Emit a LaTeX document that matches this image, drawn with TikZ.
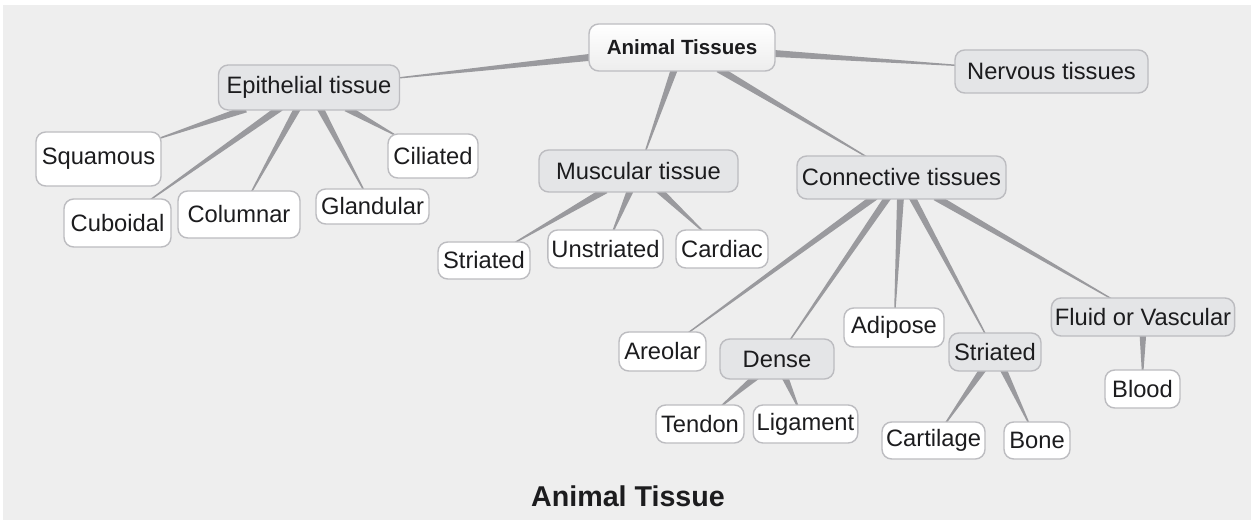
\documentclass[tikz,border=0pt]{standalone}
\usepackage{fontspec}
\setmainfont{Liberation Sans}
\usetikzlibrary{calc,backgrounds}
\definecolor{mapbg}{RGB}{238,238,238}
\definecolor{mapedge}{RGB}{188,188,192}
\definecolor{mapgroup}{RGB}{228,229,231}
\definecolor{maplink}{RGB}{154,154,158}
\definecolor{mapink}{RGB}{28,28,30}

% tapered link: wide at the parent, thin at the child
\newcommand{\twig}[2]{%
  \path (#1) -- (#2) coordinate[pos=0] (tA) coordinate[pos=1] (tB);
  \coordinate (tP) at ($(tA)!-3pt!(tB)$);
  \coordinate (tQ) at ($(tB)!-3pt!(tA)$);
  \fill[maplink] ($(tP)!2pt!90:(tQ)$) -- ($(tP)!2pt!-90:(tQ)$)
    -- ($(tQ)!0.35pt!90:(tP)$) -- ($(tQ)!0.35pt!-90:(tP)$) -- cycle;
}

\begin{document}
\begin{tikzpicture}[
    x=0.02cm, y=-0.02cm,
    every node/.style={font=\fontsize{13.5}{16}\selectfont, text=mapink, inner sep=2pt},
    dims/.style 2 args={minimum width=#1*0.02cm, minimum height=#2*0.02cm},
    leaf/.style={rectangle, draw=mapedge, fill=white, rounded corners=5.5pt, line width=0.8pt},
    group/.style={leaf, fill=mapgroup},
    root/.style={leaf, top color=white, bottom color=gray!14, font=\bfseries\fontsize{11.7}{14}\selectfont}
]
    \useasboundingbox (0,0) rectangle (1251,520);

    \node[root, dims={186}{47}] (animal) at (682,47.5) {Animal Tissues};
    \node[group, dims={181}{45}] (epith) at (309,87.5) {Epithelial tissue};
    \node[group, dims={193}{43}] (nerv) at (1051.5,71.5) {Nervous tissues};
    \node[group, dims={199}{42}] (musc) at (638.5,171) {Muscular tissue};
    \node[group, dims={209}{43}] (conn) at (901.5,177.5) {Connective tissues};

    \node[leaf, dims={125}{54}] (squam) at (98.5,159) {Squamous};
    \node[leaf, dims={90}{44}] (cilia) at (433,156) {Ciliated};
    \node[leaf, dims={107}{48}] (cubo) at (117.5,223) {Cuboidal};
    \node[leaf, dims={122}{47}] (colum) at (239,214.5) {Columnar};
    \node[leaf, dims={113}{35}] (gland) at (372.5,206.5) {Glandular};

    \node[leaf, dims={92}{37}] (mstri) at (484,260.5) {Striated};
    \node[leaf, dims={115}{38}] (unstri) at (605.5,249) {Unstriated};
    \node[leaf, dims={92}{38}] (cardiac) at (722,249) {Cardiac};

    \node[leaf, dims={87}{39}] (areol) at (662.5,351.5) {Areolar};
    \node[group, dims={114}{40}] (dense) at (777,359) {Dense};
    \node[leaf, dims={100}{39}] (adipo) at (894,327.5) {Adipose};
    \node[group, dims={92}{38}] (cstri) at (995,352) {Striated};
    \node[group, dims={180}{38}] (fluid) at (1143,317) {Fluid or Vascular};

    \node[leaf, dims={88}{38}] (tendon) at (700,424) {Tendon};
    \node[leaf, dims={103}{38}] (ligam) at (805.5,424) {Ligament};
    \node[leaf, dims={103}{37}] (cartil) at (933.5,440.5) {Cartilage};
    \node[leaf, dims={66}{37}] (bone) at (1037,440.5) {Bone};
    \node[leaf, dims={75}{38}] (blood) at (1142.5,389) {Blood};

    \node[font=\bfseries\fontsize{16.3}{19}\selectfont] (title) at (628,496) {Animal Tissue};

    \begin{scope}[on background layer]
        \fill[mapbg] (3,5) rectangle (1251,520);
        \twig{animal}{epith}
        \twig{animal}{nerv}
        \twig{animal}{musc}
        \twig{animal}{conn}
        \twig{epith}{squam}
        \twig{epith}{cubo}
        \twig{epith}{colum}
        \twig{epith}{gland}
        \twig{epith}{cilia}
        \twig{musc}{mstri}
        \twig{musc}{unstri}
        \twig{musc}{cardiac}
        \twig{conn}{areol}
        \twig{conn}{dense}
        \twig{conn}{adipo}
        \twig{conn}{cstri}
        \twig{conn}{fluid}
        \twig{dense}{tendon}
        \twig{dense}{ligam}
        \twig{cstri}{cartil}
        \twig{cstri}{bone}
        \twig{fluid}{blood}
    \end{scope}
\end{tikzpicture}
\end{document}
